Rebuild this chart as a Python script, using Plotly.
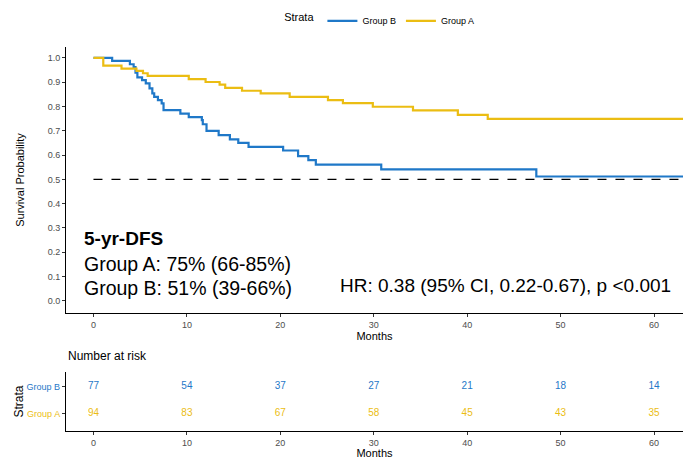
import plotly.graph_objects as go

# ---- data ----
group_b_time = [0, 2.0, 3.9, 4.3, 4.5, 4.7, 5.2, 5.6, 6.0, 6.3, 6.5, 6.9, 7.3, 7.5, 9.3, 10.2,
                11.6, 11.7, 12.1, 13.4, 14.6, 15.5, 16.6, 20.3, 21.9, 23.0, 23.8, 30.8, 47.4, 63.2]
group_b_surv = [1.0, 0.988, 0.974, 0.962, 0.939, 0.920, 0.909, 0.895, 0.875, 0.854, 0.840, 0.826,
                0.813, 0.785, 0.771, 0.756, 0.744, 0.727, 0.700, 0.682, 0.665, 0.650, 0.634, 0.619,
                0.596, 0.579, 0.561, 0.541, 0.512, 0.512]

group_a_time = [0, 1.05, 3.0, 4.6, 5.3, 5.8, 10.2, 12.0, 13.5, 14.1, 15.9, 17.9, 21.0, 25.1,
                26.7, 29.9, 34.2, 39.0, 42.2, 63.2]
group_a_surv = [1.0, 0.968, 0.956, 0.947, 0.937, 0.926, 0.913, 0.901, 0.890, 0.877, 0.865, 0.854,
                0.840, 0.826, 0.814, 0.799, 0.784, 0.766, 0.749, 0.749]

risk_times = [0, 10, 20, 30, 40, 50, 60]
risk_b = [77, 54, 37, 27, 21, 18, 14]
risk_a = [94, 83, 67, 58, 45, 43, 35]

BLUE = "#1F78C8"
YELLOW = "#EBBD13"
FONT = "Liberation Sans, Arial, sans-serif"

fig = go.Figure()

fig.add_trace(go.Scatter(x=group_b_time, y=group_b_surv, mode="lines", line_shape="hv",
                         line=dict(color=BLUE, width=2.2), name="Group B",
                         xaxis="x", yaxis="y"))
fig.add_trace(go.Scatter(x=group_a_time, y=group_a_surv, mode="lines", line_shape="hv",
                         line=dict(color=YELLOW, width=2.2), name="Group A",
                         xaxis="x", yaxis="y"))

# risk table
fig.add_trace(go.Scatter(x=risk_times, y=[2] * len(risk_times), mode="text",
                         text=[str(v) for v in risk_b], textfont=dict(color=BLUE, size=10, family=FONT),
                         showlegend=False, xaxis="x2", yaxis="y2", hoverinfo="skip"))
fig.add_trace(go.Scatter(x=risk_times, y=[1] * len(risk_times), mode="text",
                         text=[str(v) for v in risk_a], textfont=dict(color=YELLOW, size=10, family=FONT),
                         showlegend=False, xaxis="x2", yaxis="y2", hoverinfo="skip"))

# median reference line
fig.add_shape(type="line", xref="x", yref="y", x0=0, x1=63.2, y0=0.5, y1=0.5,
              line=dict(color="black", width=1.1, dash="dash"))

axis_common = dict(showline=True, linecolor="black", linewidth=1.1, ticks="outside",
                   ticklen=3, tickcolor="#333333", showgrid=False, zeroline=False,
                   automargin=False,
                   tickfont=dict(size=9, color="#4D4D4D", family=FONT))

H_PLOT = 459 - 47 - 28

fig.update_layout(
    width=683, height=459,
    margin=dict(l=66, r=0, t=47, b=28),
    plot_bgcolor="white", paper_bgcolor="white",
    font=dict(family=FONT, color="black"),
    xaxis=dict(domain=[0, 1], range=[-2.94, 63.1], tickvals=[0, 10, 20, 30, 40, 50, 60],
               title=dict(text="Months", font=dict(size=11), standoff=0), anchor="y", **axis_common),
    yaxis=dict(domain=[(459 - 28 - 313) / H_PLOT, 1], range=[-0.05, 1.045],
               tickvals=[i / 10 for i in range(11)],
               tickformat=".1f", title=dict(text="Survival Probability", font=dict(size=11), standoff=20),
               anchor="x", **axis_common),
    xaxis2=dict(domain=[0, 1], range=[-2.94, 63.1], tickvals=[0, 10, 20, 30, 40, 50, 60],
                title=dict(text="Months", font=dict(size=11), standoff=1), anchor="y2", **axis_common),
    yaxis2=dict(domain=[0, (459 - 28 - 372) / H_PLOT], range=[0.35, 2.55], tickvals=[1, 2],
                ticktext=[f"<span style='color:{YELLOW}'>Group A</span>",
                          f"<span style='color:{BLUE}'>Group B</span>"],
                title=dict(text="Strata", font=dict(size=12), standoff=0),
                anchor="x2", **axis_common),
    legend=dict(orientation="h", x=0.51, xanchor="center", y=0.986, yanchor="top",
                yref="container", font=dict(size=9),
                title=dict(text="Strata", font=dict(size=11)), itemwidth=30,
                bgcolor="rgba(0,0,0,0)"),
    showlegend=True,
)


def ypx(py):
    return (459 - 28 - py) / H_PLOT


fig.add_annotation(text="<b>5-yr-DFS</b>", xref="paper", yref="paper", x=0.026, y=ypx(238),
                   xanchor="left", yanchor="middle", showarrow=False, font=dict(size=19, color="black"))
fig.add_annotation(text="Group A: 75% (66-85%)", xref="paper", yref="paper", x=0.026,
                   y=ypx(264), xanchor="left", yanchor="middle", showarrow=False,
                   font=dict(size=19.5, color="black"))
fig.add_annotation(text="Group B: 51% (39-66%)", xref="paper", yref="paper", x=0.026,
                   y=ypx(288), xanchor="left", yanchor="middle", showarrow=False,
                   font=dict(size=19.5, color="black"))
fig.add_annotation(text="HR: 0.38 (95% CI, 0.22-0.67), p <0.001", xref="paper", yref="paper",
                   x=(673 - 66) / 617, y=ypx(285), xanchor="right", yanchor="middle",
                   showarrow=False, font=dict(size=19, color="black"))
fig.add_annotation(text="Number at risk", xref="paper", yref="paper", x=0, y=ypx(356),
                   xanchor="left", yanchor="middle", showarrow=False, font=dict(size=12, color="black"))

fig.write_html("out.html", config={"displayModeBar": False},
               post_script="document.body.style.margin='0';document.body.style.padding='0';")
